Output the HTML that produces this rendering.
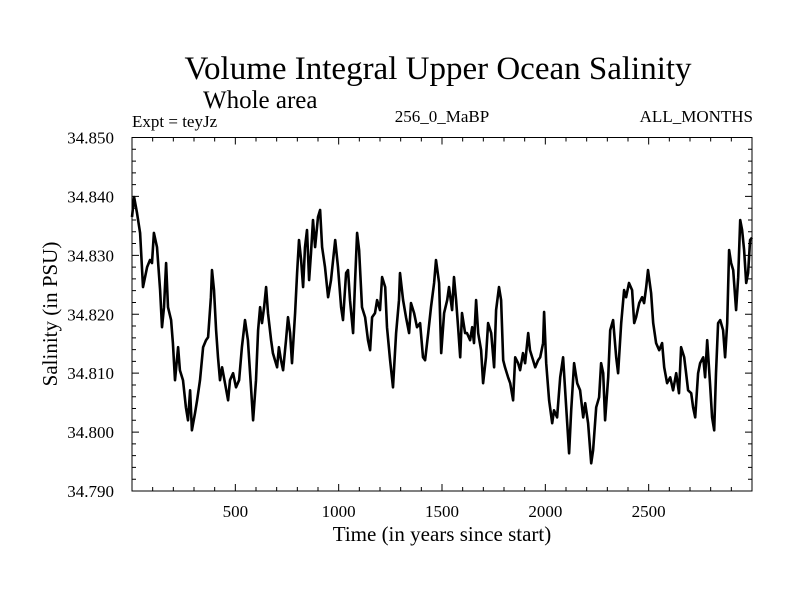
<!DOCTYPE html>
<html><head><meta charset="utf-8"><style>
body{margin:0;background:#fff;}
svg{display:block;font-family:"Liberation Serif",serif;}
</style></head><body>
<svg id="chart" width="800" height="600" viewBox="0 0 800 600">
<rect width="800" height="600" fill="#fff"/>
<text x="438" y="79" font-size="33" text-anchor="middle">Volume Integral Upper Ocean Salinity</text>
<text x="203" y="108" font-size="25">Whole area</text>
<text x="132" y="127" font-size="17">Expt = teyJz</text>
<text x="442" y="122" font-size="17" text-anchor="middle">256_0_MaBP</text>
<text x="753" y="122" font-size="17" text-anchor="end">ALL_MONTHS</text>
<text x="442" y="541" font-size="21" text-anchor="middle">Time (in years since start)</text>
<text x="0" y="0" font-size="21" text-anchor="middle" transform="translate(57,314) rotate(-90)">Salinity (in PSU)</text>
<g id="axes"></g>
<path id="series" fill="none" stroke="#000" stroke-width="2.6" stroke-linejoin="round"/>
<rect x="132" y="137.5" width="620" height="353.5" fill="none" stroke="#000" stroke-width="1"/>
</svg>
<script>
const years=[0,10,24,39,53,73,87,97,106,121,136,145,155,165,174,189,198,208,223,232,247,261,271,281,290,305,315,329,344,358,368,382,387,397,407,416,426,436,450,465,474,489,503,518,532,547,561,576,586,600,610,620,629,639,649,658,673,682,692,702,711,721,731,745,755,765,774,789,799,808,818,828,837,847,857,866,876,886,900,910,920,934,949,963,973,983,997,1012,1021,1036,1045,1055,1070,1079,1089,1099,1113,1128,1142,1152,1162,1176,1186,1200,1210,1225,1234,1249,1263,1278,1292,1297,1312,1326,1341,1350,1365,1379,1394,1408,1418,1433,1447,1462,1471,1486,1496,1510,1525,1534,1549,1558,1568,1578,1588,1597,1612,1621,1636,1646,1655,1665,1675,1689,1699,1713,1723,1738,1752,1762,1776,1786,1796,1805,1820,1830,1844,1854,1868,1878,1892,1902,1917,1926,1941,1951,1965,1975,1989,1994,2004,2018,2033,2042,2057,2072,2086,2101,2115,2125,2139,2154,2168,2183,2193,2207,2222,2231,2246,2260,2270,2280,2289,2304,2314,2328,2343,2352,2367,2381,2391,2405,2420,2430,2439,2454,2468,2478,2488,2497,2512,2522,2536,2551,2565,2575,2589,2604,2618,2633,2647,2657,2672,2681,2691,2706,2715,2725,2739,2749,2764,2773,2783,2797,2807,2817,2826,2836,2846,2860,2870,2880,2889,2899,2909,2923,2933,2943,2952,2962,2972,2981,2991,3000];
const salinity=[34.8365,34.8399,34.8372,34.8338,34.8246,34.8280,34.8292,34.8287,34.8338,34.8314,34.8241,34.8178,34.8212,34.8287,34.8212,34.8190,34.8151,34.8088,34.8144,34.8105,34.8088,34.8042,34.8020,34.8071,34.8003,34.8032,34.8054,34.8088,34.8144,34.8156,34.8161,34.8229,34.8275,34.8241,34.8173,34.8127,34.8088,34.8110,34.8083,34.8054,34.8088,34.8100,34.8076,34.8088,34.8144,34.8190,34.8156,34.8076,34.8020,34.8088,34.8173,34.8212,34.8185,34.8212,34.8246,34.8202,34.8156,34.8134,34.8122,34.8110,34.8144,34.8122,34.8105,34.8156,34.8195,34.8168,34.8117,34.8202,34.8270,34.8326,34.8292,34.8246,34.8314,34.8343,34.8258,34.8304,34.8360,34.8314,34.8365,34.8377,34.8314,34.8280,34.8229,34.8258,34.8292,34.8326,34.8280,34.8212,34.8190,34.8270,34.8275,34.8224,34.8168,34.8253,34.8338,34.8309,34.8212,34.8195,34.8156,34.8139,34.8195,34.8202,34.8224,34.8207,34.8263,34.8246,34.8178,34.8122,34.8076,34.8168,34.8224,34.8270,34.8224,34.8195,34.8168,34.8219,34.8202,34.8178,34.8185,34.8127,34.8122,34.8168,34.8212,34.8253,34.8292,34.8253,34.8134,34.8202,34.8224,34.8246,34.8207,34.8263,34.8224,34.8178,34.8127,34.8202,34.8168,34.8168,34.8156,34.8178,34.8151,34.8224,34.8168,34.8139,34.8083,34.8127,34.8185,34.8168,34.8110,34.8207,34.8246,34.8224,34.8122,34.8110,34.8093,34.8083,34.8054,34.8127,34.8117,34.8105,34.8134,34.8117,34.8168,34.8139,34.8122,34.8110,34.8122,34.8127,34.8151,34.8204,34.8117,34.8054,34.8015,34.8037,34.8025,34.8093,34.8127,34.8042,34.7964,34.8037,34.8117,34.8083,34.8071,34.8025,34.8049,34.8015,34.7947,34.7969,34.8042,34.8059,34.8117,34.8100,34.8020,34.8093,34.8173,34.8190,34.8127,34.8100,34.8185,34.8241,34.8229,34.8253,34.8241,34.8185,34.8195,34.8219,34.8229,34.8219,34.8246,34.8275,34.8236,34.8185,34.8151,34.8139,34.8151,34.8110,34.8083,34.8093,34.8071,34.8100,34.8066,34.8144,34.8127,34.8100,34.8071,34.8066,34.8042,34.8025,34.8100,34.8117,34.8127,34.8093,34.8156,34.8083,34.8025,34.8003,34.8100,34.8185,34.8190,34.8173,34.8127,34.8185,34.8309,34.8287,34.8275,34.8207,34.8263,34.8360,34.8343,34.8309,34.8253,34.8270,34.8326,34.8330];
const xTickLabels=[500,1000,1500,2000,2500];
const yTickLabels=["34.790","34.800","34.810","34.820","34.830","34.840","34.850"];
const X0=132,X1=752,Y0=137.5,Y1=491,XMIN=0,XMAX=3000,YMIN=34.790,YMAX=34.850;
function sx(v){return X0+(v-XMIN)/(XMAX-XMIN)*(X1-X0);}
function sy(v){return Y1-(v-YMIN)/(YMAX-YMIN)*(Y1-Y0);}
const NS="http://www.w3.org/2000/svg";
const axes=document.getElementById('axes');
let d="";
for(let t=100;t<XMAX;t+=100){const x=sx(t),L=(t%500===0)?7:4;d+=`M${x},${Y1}v${-L}M${x},${Y0}v${L}`;}
for(let k=1;k<30;k++){const v=YMIN+k*0.002,y=sy(v),L=(k%5===0)?7:4;d+=`M${X0},${y}h${L}M${X1},${y}h${-L}`;}
const tp=document.createElementNS(NS,'path');
tp.setAttribute('d',d);tp.setAttribute('stroke','#000');tp.setAttribute('stroke-width','1');


axes.appendChild(tp);
xTickLabels.forEach(v=>{const t=document.createElementNS(NS,'text');
t.setAttribute('x',sx(v));t.setAttribute('y',517);t.setAttribute('font-size','17');t.setAttribute('text-anchor','middle');
t.textContent=v;


axes.appendChild(t);});
yTickLabels.forEach(v=>{const t=document.createElementNS(NS,'text');
t.setAttribute('x',114);t.setAttribute('y',sy(parseFloat(v))+6);t.setAttribute('font-size','17');t.setAttribute('text-anchor','end');
t.textContent=v;


axes.appendChild(t);});
let p="";
years.forEach((yr,i)=>{p+=(i?"L":"M")+sx(yr).toFixed(1)+","+sy(salinity[i]).toFixed(1);});
document.getElementById('series').setAttribute('d',p);
</script>
</body></html>
